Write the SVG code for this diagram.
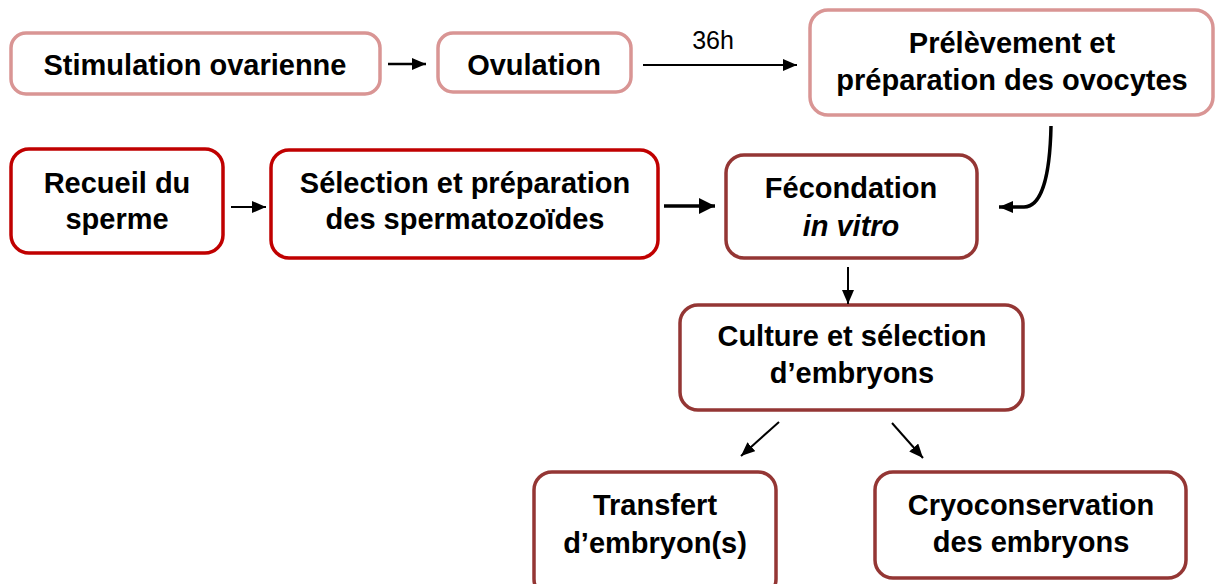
<svg xmlns="http://www.w3.org/2000/svg" width="1215" height="584" viewBox="0 0 1215 584">
  <style>
    .box { fill: #ffffff; stroke-width: 3.5; }
    .pale { stroke: #d99594; }
    .red { stroke: #c00000; }
    .brown { stroke: #943634; }
    .t { font-family: "Liberation Sans", Arial, sans-serif; font-weight: bold; font-size: 29px; fill: #000000; text-anchor: middle; }
    .lbl { font-family: "Liberation Sans", Arial, sans-serif; font-size: 25px; fill: #000000; text-anchor: middle; }
    .conn { fill: none; stroke: #000000; stroke-width: 2; }
    .conn.mid { stroke-width: 2.5; }
    .conn.bold { stroke-width: 3.5; }
  </style>
  <defs>
    <marker id="head" markerUnits="userSpaceOnUse" markerWidth="14" markerHeight="12" refX="14" refY="6" orient="auto">
      <path d="M0,0 L14,6 L0,12 z" fill="#000000"/>
    </marker>
    <marker id="head-lg" markerUnits="userSpaceOnUse" markerWidth="16" markerHeight="16" refX="16" refY="8" orient="auto">
      <path d="M0,0 L16,8 L0,16 z" fill="#000000"/>
    </marker>
  </defs>

  <g id="node-stimulation">
    <rect class="box pale" x="11" y="33" width="369" height="61" rx="15"/>
    <text class="t" x="195" y="75">Stimulation ovarienne</text>
  </g>
  <g id="node-ovulation">
    <rect class="box pale" x="438" y="33" width="193" height="59" rx="15"/>
    <text class="t" x="534" y="75">Ovulation</text>
  </g>
  <g id="node-prelevement">
    <rect class="box pale" x="810" y="10" width="403" height="105" rx="18"/>
    <text class="t" x="1012" y="53">Prélèvement et</text>
    <text class="t" x="1012" y="90">préparation des ovocytes</text>
  </g>
  <g id="node-recueil">
    <rect class="box red" x="11" y="149" width="212" height="104" rx="18"/>
    <text class="t" x="117" y="193">Recueil du</text>
    <text class="t" x="117" y="229">sperme</text>
  </g>
  <g id="node-selection">
    <rect class="box red" x="271" y="150" width="387" height="108" rx="18"/>
    <text class="t" x="465" y="193">Sélection et préparation</text>
    <text class="t" x="465" y="229">des spermatozoïdes</text>
  </g>
  <g id="node-fecondation">
    <rect class="box brown" x="726" y="155" width="251" height="103" rx="18"/>
    <text class="t" x="851" y="198">Fécondation</text>
    <text class="t" x="851" y="236" font-style="italic">in vitro</text>
  </g>
  <g id="node-culture">
    <rect class="box brown" x="680" y="305" width="343" height="105" rx="18"/>
    <text class="t" x="852" y="346">Culture et sélection</text>
    <text class="t" x="852" y="383">d’embryons</text>
  </g>
  <g id="node-transfert">
    <rect class="box brown" x="534" y="472" width="242" height="125" rx="18"/>
    <text class="t" x="655" y="515">Transfert</text>
    <text class="t" x="655" y="553">d’embryon(s)</text>
  </g>
  <g id="node-cryo">
    <rect class="box brown" x="875" y="472" width="311" height="106" rx="18"/>
    <text class="t" x="1031" y="515">Cryoconservation</text>
    <text class="t" x="1031" y="552">des embryons</text>
  </g>

  <g id="connectors">
    <line class="conn mid" x1="388" y1="64" x2="426" y2="64" marker-end="url(#head)"/>
    <line class="conn" x1="643" y1="65" x2="797" y2="65" marker-end="url(#head)"/>
    <text class="lbl" x="713" y="49">36h</text>
    <line class="conn" x1="231" y1="207" x2="266" y2="207" marker-end="url(#head)"/>
    <line class="conn bold" x1="664" y1="206" x2="715" y2="206" marker-end="url(#head-lg)"/>
    <path class="conn bold" d="M1051,126 C1050,175 1042,207 1024,207 L999,207" marker-end="url(#head)"/>
    <line class="conn" x1="848" y1="267" x2="848" y2="304" marker-end="url(#head)"/>
    <line class="conn" x1="779" y1="422" x2="741" y2="456" marker-end="url(#head)"/>
    <line class="conn" x1="892" y1="423" x2="923" y2="458" marker-end="url(#head)"/>
  </g>
</svg>
